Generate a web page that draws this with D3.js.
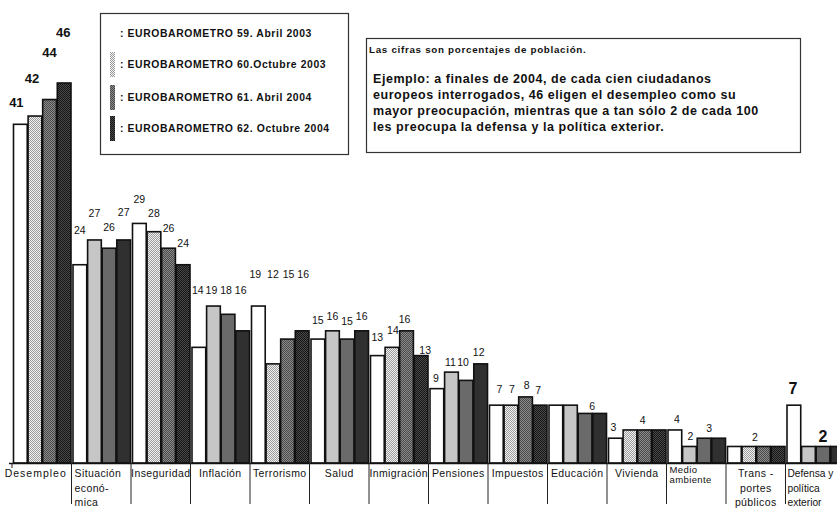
<!DOCTYPE html>
<html><head><meta charset="utf-8">
<script src="https://cdn.jsdelivr.net/npm/d3@7"></script>
<style>
body{margin:0;background:#fff}
svg{display:block}
text{font-family:"Liberation Sans",Arial,Helvetica,sans-serif;fill:#111}
</style>
</head><body>
<svg id="chart" width="837" height="513"></svg>
<script>
// ---------------- DATA ----------------
const categories = ["Desempleo","Situación económica","Inseguridad","Inflación","Terrorismo","Salud","Inmigración","Pensiones","Impuestos","Educación","Vivienda","Medio ambiente","Transportes públicos","Defensa y política exterior"];
const categoryLines = [["Desempleo"],["Situación","econó-","mica"],["Inseguridad"],["Inflación"],["Terrorismo"],["Salud"],["Inmigración"],["Pensiones"],["Impuestos"],["Educación"],["Vivienda"],["Medio","ambiente"],["Trans -","portes","públicos"],["Defensa y","política","exterior"]];
const seriesLabels = [": EUROBAROMETRO 59. Abril 2003",": EUROBAROMETRO 60.Octubre 2003",": EUROBAROMETRO 61. Abril 2004",": EUROBAROMETRO 62.  Octubre 2004"];
const eb59 = [41,24,29,14,19,15,13,9,7,7,3,4,2,7];
const eb60 = [42,27,28,19,12,16,14,11,7,7,4,2,2,2];
const eb61 = [44,26,26,18,15,15,16,10,8,6,4,3,2,2];
const eb62 = [46,27,24,16,16,16,13,12,7,6,4,3,2,2];
const noteSmall = "Las cifras son porcentajes de población.";
const noteLines = ["Ejemplo: a finales de 2004, de cada cien ciudadanos","europeos interrogados, 46 eligen el desempleo como su","mayor preocupación, mientras que a tan sólo 2 de cada 100","les preocupa la defensa y la política exterior."];

// ---------------- LAYOUT (label nudges relative to bar tops; null = no label) ----------------
const labelNudge = [
  [[-4,22],[-3,38],[0,47],[-1,51]],
  [[0,35],[0,27],[0,21],[0,28]],
  [[0,24],[0,19],[0,20],[0,22]],
  [[-1,57],[-2,16],[-2,24],[-2,41]],
  [[-3,32],[0,90],[1,65],[1,57]],
  [[0,19],[0,15],[0,18],[0,15]],
  [[0,19],[1,17],[-2,12],[4,6]],
  [[-1,11],[-1,10],[-3,18],[-2,12]],
  [[3,16],[1,16],[1,12],[-2,15]],
  [null,null,[7,7],null],
  [[-2,11],null,[-2,10],null],
  [[2,11],[1,10],[5,10],null],
  [null,[6,9],null,null],
  [[-1,17],null,[0,10],null]
];

const series = [eb59, eb60, eb61, eb62];
const svg = d3.select("#chart");

// patterns imitating the stippled print
const defs = svg.append("defs");
const pats = [null, ["#f2f2f2","#9a9a9a"], ["#8a8a8a","#4a4a4a"], ["#4a4a4a","#151515"]];
pats.forEach((p,i)=>{
  if(!p) return;
  const pt = defs.append("pattern").attr("id","p"+i).attr("width",2).attr("height",2).attr("patternUnits","userSpaceOnUse");
  pt.append("rect").attr("width",2).attr("height",2).attr("fill",p[0]);
  pt.append("rect").attr("width",1).attr("height",1).attr("fill",p[1]);
  pt.append("rect").attr("x",1).attr("y",1).attr("width",1).attr("height",1).attr("fill",p[1]);
});
const fillFor = i => i===0 ? "#ffffff" : `url(#p${i})`;

const baseY = 463;
const y = d3.scaleLinear().domain([0,46]).range([baseY,83]);
const x0 = d3.scaleBand().domain(categories).range([12, 12+59.5*categories.length]).padding(0);
const x1 = d3.scaleBand().domain(d3.range(4)).range([1.5, 59]).paddingInner(0.06);

const rows = categories.map((c,gi)=>({c, gi, vals: series.map(s=>s[gi])}));

const groups = svg.append("g").selectAll("g").data(rows).join("g")
  .attr("transform", d=>`translate(${x0(d.c)},0)`);

groups.selectAll("rect").data(d=>d.vals.map((v,si)=>({v,si,gi:d.gi}))).join("rect")
  .attr("x", d=>x1(d.si))
  .attr("width", x1.bandwidth())
  .attr("y", d=>y(d.v))
  .attr("height", d=>baseY - y(d.v))
  .attr("fill", d=>fillFor(d.si))
  .attr("stroke", "#111")
  .attr("stroke-width", 1.6);

// value labels
groups.selectAll("text.val").data(d=>d.vals.map((v,si)=>({v,si,gi:d.gi})).filter(d=>labelNudge[d.gi][d.si])).join("text")
  .attr("class","val")
  .attr("x", d=>x1(d.si)+x1.bandwidth()/2+labelNudge[d.gi][d.si][0])
  .attr("y", d=>y(d.v)-labelNudge[d.gi][d.si][1])
  .attr("text-anchor","middle")
  .attr("dominant-baseline","central")
  .attr("font-size", d=> d.gi===0 ? 13 : d.gi===13 ? 16 : 10.5)
  .attr("font-weight", d=> (d.gi===0||d.gi===13) ? "bold" : "normal")
  .text(d=>d.v);

// baseline
const xEnd = 837;
svg.append("line").attr("x1",9).attr("x2",xEnd).attr("y1",baseY+0.5).attr("y2",baseY+0.5)
  .attr("stroke","#111").attr("stroke-width",1.6);

// separators
svg.append("g").selectAll("line").data(categories).join("line")
  .attr("x1", d=>x0(d)).attr("x2", d=>x0(d))
  .attr("y1", baseY).attr("y2", (d,i)=> i===0 ? baseY+5 : baseY+41)
  .attr("stroke","#222").attr("stroke-width",1);

// category labels
const catG = svg.append("g").selectAll("g").data(rows).join("g");
catG.each(function(d){
  const lines = categoryLines[d.gi];
  const g = d3.select(this);
  const left = x0(d.c);
  const multi = lines.length>1 && d.gi!==12;
  const small = d.gi===11;
  lines.forEach((ln,k)=>{
    g.append("text")
      .attr("x", multi ? left+(d.gi===13?2:3) : left + x0.bandwidth()/2 + (d.gi===0?-6:0))
      .attr("y", (small?473:477) + k*(small?9.5:14.5))
      .attr("text-anchor", multi ? "start" : "middle")
      .attr("font-size", small?9.5:(d.gi===13?10.2:10.5))
      .attr("letter-spacing", d.gi===0 ? 1.0 : d.gi===13 ? 0 : 0.4)
      .text(ln);
  });
});

// legend
const lg = svg.append("g");
lg.append("rect").attr("x",100.5).attr("y",13.5).attr("width",248).attr("height",141)
  .attr("fill","#fff").attr("stroke","#333").attr("stroke-width",1.2);
const legY = [33,64,97,128];
seriesLabels.forEach((t,i)=>{
  if(i>0) lg.append("rect").attr("x",110).attr("y",legY[i]-12).attr("width",5).attr("height",25).attr("fill",fillFor(i));
  lg.append("text").attr("x",120).attr("y",legY[i]).attr("dominant-baseline","central")
    .attr("font-size",10.4).attr("font-weight","bold").attr("letter-spacing",0.6).text(t);
});

// note box
const nb = svg.append("g");
nb.append("rect").attr("x",366.5).attr("y",38.5).attr("width",434).attr("height",114)
  .attr("fill","#fff").attr("stroke","#333").attr("stroke-width",1.2);
nb.append("text").attr("x",369).attr("y",49).attr("dominant-baseline","central")
  .attr("font-size",9.8).attr("font-weight","bold").attr("letter-spacing",0.7).text(noteSmall);
noteLines.forEach((t,i)=>{
  nb.append("text").attr("x",373).attr("y",79+i*16).attr("dominant-baseline","central")
    .attr("font-size",12.5).attr("font-weight","bold").attr("letter-spacing",0.55).text(t);
});
</script>
</body></html>
